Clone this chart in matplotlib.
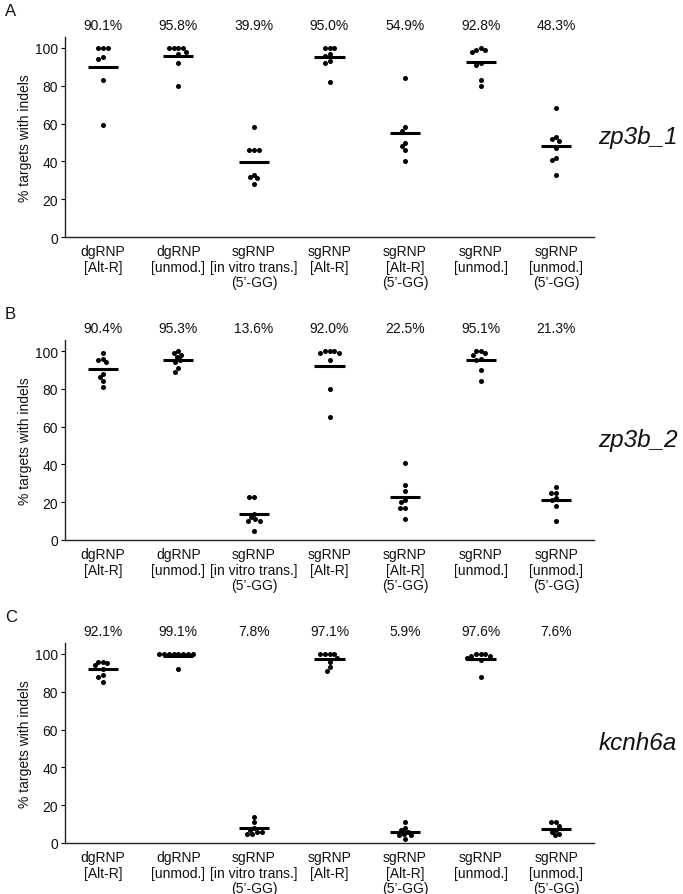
import numpy as np
import matplotlib
matplotlib.use("Agg")
import matplotlib.pyplot as plt
from matplotlib.transforms import blended_transform_factory

plt.rcParams['font.family'] = ['Liberation Sans', 'DejaVu Sans']

categories = ["dgRNP\n[Alt-R]", "dgRNP\n[unmod.]", "sgRNP\n[in vitro trans.]\n(5\u2019-GG)",
              "sgRNP\n[Alt-R]", "sgRNP\n[Alt-R]\n(5\u2019-GG)", "sgRNP\n[unmod.]",
              "sgRNP\n[unmod.]\n(5\u2019-GG)"]

# Panel A: zp3b_1
a_vals = [
    [100, 100, 100, 95, 94, 83, 59],
    [100, 100, 100, 100, 98, 97, 92, 80],
    [58, 46, 46, 46, 33, 32, 31, 28],
    [100, 100, 100, 97, 96, 93, 92, 82],
    [84, 58, 56, 50, 48, 46, 40],
    [100, 99, 98, 99, 92, 91, 83, 80],
    [68, 53, 52, 51, 47, 42, 41, 33],
]
a_means = [90.1, 95.8, 39.9, 95.0, 54.9, 92.8, 48.3]

# Panel B: zp3b_2
b_vals = [
    [99, 96, 95, 94, 88, 86, 84, 81],
    [100, 99, 98, 97, 95, 94, 91, 89],
    [23, 23, 14, 12, 11, 10, 10, 5],
    [100, 100, 100, 99, 99, 95, 80, 65],
    [41, 29, 26, 21, 20, 17, 17, 11],
    [100, 100, 99, 98, 96, 95, 90, 84],
    [28, 25, 25, 22, 21, 18, 10],
]
b_means = [90.4, 95.3, 13.6, 92.0, 22.5, 95.1, 21.3]

# Panel C: kcnh6a
c_vals = [
    [96, 96, 95, 94, 92, 89, 88, 85],
    [100, 100, 100, 100, 100, 100, 100, 100, 92],
    [14, 11, 8, 7, 6, 6, 5, 5],
    [100, 100, 100, 100, 98, 96, 93, 91],
    [11, 8, 7, 6, 5, 4, 4, 2],
    [100, 100, 100, 99, 99, 98, 97, 88],
    [11, 11, 9, 7, 6, 5, 4],
]
c_means = [92.1, 99.1, 7.8, 97.1, 5.9, 97.6, 7.6]

panels = [("A", "zp3b_1", a_vals, a_means),
          ("B", "zp3b_2", b_vals, b_means),
          ("C", "kcnh6a", c_vals, c_means)]

W, H = 683, 895
fig = plt.figure(figsize=(W / 100, H / 100), dpi=100)

left_px, right_px = 65, 594
bottoms_px = [238, 541, 844]
ymax = 106
px_per_unit = 1.89
axh_px = ymax * px_per_unit

XPX = (right_px - left_px) / 7.0   # pixels per x unit
DIAM = 4.8                         # dot diameter in px
TEXTC = '#111111'


def swarm_offsets(values):
    vals = np.asarray(values, dtype=float)
    order = np.argsort(-vals, kind='stable')
    placed = []
    offs = np.zeros(len(vals))
    for idx in order:
        y = vals[idx] * px_per_unit
        cands = [0.0]
        for (px, py) in placed:
            dy = abs(py - y)
            if dy < DIAM:
                dx = np.sqrt(DIAM ** 2 - dy ** 2) + 0.01
                cands += [px + dx, px - dx]
        cands = sorted(cands, key=lambda c: (abs(c), c))
        for c in cands:
            ok = all((c - px) ** 2 + (y - py) ** 2 >= DIAM ** 2 - 1e-6 for px, py in placed)
            if ok:
                placed.append((c, y))
                offs[idx] = c / XPX
                break
    return offs


for k, (letter, gene, vals, means) in enumerate(panels):
    b = bottoms_px[k]
    ax = fig.add_axes([left_px / W, 1 - b / H, (right_px - left_px) / W, axh_px / H])
    xs = np.arange(1, 8)
    for i, group in enumerate(vals):
        offs = swarm_offsets(group)
        ax.scatter(xs[i] + offs, group, s=13, color='black', linewidths=0, zorder=3)
        ax.hlines(means[i], xs[i] - 0.2, xs[i] + 0.2, color='black', linewidth=2.2, zorder=4)
    ax.set_xlim(0.5, 7.5)
    ax.set_ylim(0, ymax)
    ax.set_yticks([0, 20, 40, 60, 80, 100])
    ax.set_xticks(xs)
    ax.set_xticklabels(categories, fontsize=10, color=TEXTC, linespacing=1.15)
    ax.tick_params(axis='y', labelsize=10, labelcolor=TEXTC, length=3, width=0.8, pad=2)
    ax.tick_params(axis='x', length=0, pad=5)
    for s in ['top', 'right']:
        ax.spines[s].set_visible(False)
    for s in ['left', 'bottom']:
        ax.spines[s].set_linewidth(1.0)
        ax.spines[s].set_color('#222222')
    ax.set_ylabel("% targets with indels", fontsize=10, color=TEXTC, labelpad=2)
    trans = blended_transform_factory(ax.transData, ax.transAxes)
    for i, m in enumerate(means):
        ax.text(xs[i], 1 + 12 / axh_px, f"{m:.1f}%", transform=trans, ha='center',
                va='center', fontsize=10, color=TEXTC)
    ax.text(1.008, 0.5, gene, transform=ax.transAxes, ha='left', va='center',
            fontsize=17.5, style='italic', color=TEXTC)
    top_px = b - axh_px
    fig.text(5 / W, 1 - (top_px - 26) / H, letter, ha='left', va='center',
             fontsize=12, color=TEXTC)

fig.savefig("out.png", dpi=100)
